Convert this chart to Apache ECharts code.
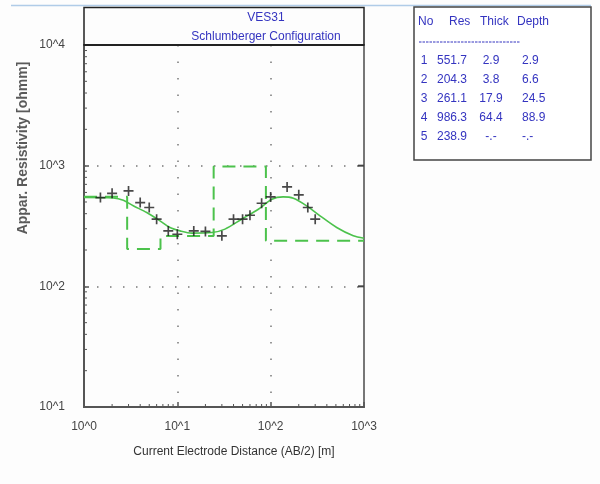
<!DOCTYPE html>
<html>
<head>
<meta charset="utf-8">
<script src="https://cdn.jsdelivr.net/npm/echarts@6/dist/echarts.min.js"></script>
<style>html,body{margin:0;padding:0;background:#fdfdfd;}#c{width:600px;height:484px;}</style>
</head>
<body>
<div id="c"></div>
<script>
// ---- data ----
const abHalf = [1.5, 2, 3, 4, 5, 6, 8, 10, 15, 20, 30, 40, 50, 60, 80, 100, 150, 200, 250, 300];
const rhoObs = [544, 590, 618, 494, 450, 360, 288, 270, 288, 285, 262, 360, 360, 388, 488, 551, 667, 573, 450, 360];
const fitX = [1, 2.06, 2.64, 3.37, 4.7, 6.52, 8.34, 10.7, 14.3, 23.4, 32.4, 48.9, 73.8, 103, 136, 175, 243, 338, 510, 768, 1000];
const fitY = [544, 540, 517, 465, 409, 349, 307, 288, 276, 279, 298, 360, 435, 527, 551, 537, 465, 384, 307, 262, 250];
const layerNo = [1, 2, 3, 4, 5];
const layerRes = [551.7, 204.3, 261.1, 986.3, 238.9];
const layerThick = [2.9, 3.8, 17.9, 64.4];
const layerDepth = [2.9, 6.6, 24.5, 88.9];
const xTickLabels = ['10^0', '10^1', '10^2', '10^3'];
const yTickLabels = ['10^1', '10^2', '10^3', '10^4'];
const xMinor = [2,3,4,5,6,7,8,9,20,30,40,50,60,70,80,90,200,300,400,500,600,700,800,900];
const yMinor = [20,30,40,50,60,70,80,90,200,300,400,500,600,700,800,900,2000,3000,4000,5000,6000,7000,8000,9000];

const GREEN = '#4cc24c';
const BLUE = '#3434c0';
const FONT = '"Liberation Sans", Arial, sans-serif';

// model step data
const stepData = [[1, layerRes[0]]];
for (let i = 0; i < layerDepth.length; i++) stepData.push([layerDepth[i], layerRes[i + 1]]);
stepData.push([1000, layerRes[layerRes.length - 1]]);

const chart = echarts.init(document.getElementById('c'), null, {renderer: 'canvas'});

// table graphics
const tbl = [];
const colX = {no: 424, res: 437, thick: 491, depth: 517};
const rowY = [61, 80, 99, 118, 137];
tbl.push({type: 'rect', z: 10, shape: {x: 414, y: 7, width: 177, height: 153}, style: {fill: '#fff', stroke: '#444', lineWidth: 1.5}});
const head = [['No', 418], ['Res', 449], ['Thick', 480], ['Depth', 517]];
head.forEach(h => tbl.push({type: 'text', z: 11, x: h[1], y: 22, style: {text: h[0], fill: BLUE, font: '12px ' + FONT, textAlign: 'left', textVerticalAlign: 'middle'}}));
tbl.push({type: 'line', z: 11, shape: {x1: 419, y1: 42, x2: 520, y2: 42}, style: {stroke: BLUE, lineWidth: 1, lineDash: [2.5, 1]}});
layerNo.forEach((n, i) => {
  const y = rowY[i];
  const t = (s, x, a) => tbl.push({type: 'text', z: 11, x: x, y: y, style: {text: s, fill: BLUE, font: '12px ' + FONT, textAlign: a, textVerticalAlign: 'middle'}});
  t(String(n), colX.no, 'center');
  t(layerRes[i].toFixed(1), colX.res, 'left');
  t(i < layerThick.length ? layerThick[i].toFixed(1) : '-.-', colX.thick, 'center');
  t(i < layerDepth.length ? layerDepth[i].toFixed(1) : '-.-', colX.depth + 5, 'left');
});

const option = {
  backgroundColor: '#fdfdfd',
  animation: false,
  grid: {left: 84, right: 236, top: 45, bottom: 77, show: true, borderColor: '#777', borderWidth: 2, backgroundColor: 'transparent'},
  xAxis: {
    type: 'log', min: 1, max: 1000, logBase: 10,
    axisLine: {show: true, lineStyle: {color: '#555', width: 2}},
    axisTick: {show: true, inside: true, length: 5, lineStyle: {color: '#555', width: 1.5}},
    axisLabel: {margin: 14, color: '#444', fontSize: 12, fontFamily: FONT,
      formatter: v => xTickLabels[Math.round(Math.log10(v))]},
    splitLine: {show: true, lineStyle: {color: '#777', width: 1.5, type: [1.5, 15]}}
  },
  yAxis: {
    type: 'log', min: 10, max: 10000, logBase: 10,
    axisLine: {show: true, lineStyle: {color: '#555', width: 2}},
    axisTick: {show: true, inside: true, length: 5, lineStyle: {color: '#555', width: 1.5}},
    axisLabel: {margin: 19, color: '#444', fontSize: 12, fontFamily: FONT,
      formatter: v => yTickLabels[Math.round(Math.log10(v)) - 1]},
    splitLine: {show: true, lineStyle: {color: '#777', width: 1.5, type: [1.5, 11.5]}}
  },
  graphic: [
    {type: 'line', z: 1, shape: {x1: 11, y1: 5.5, x2: 591, y2: 5.5}, style: {stroke: '#b0cce8', lineWidth: 1.5}},
    {type: 'rect', z: 10, shape: {x: 84, y: 7.5, width: 280, height: 37.5}, style: {fill: '#fdfdfd', stroke: '#222', lineWidth: 1.5}},
    {type: 'line', z: 12, shape: {x1: 84, y1: 45, x2: 364, y2: 45}, style: {stroke: '#222', lineWidth: 2}},
    {type: 'text', z: 11, x: 266, y: 18, style: {text: 'VES31', fill: BLUE, font: '12px ' + FONT, textAlign: 'center', textVerticalAlign: 'middle'}},
    {type: 'text', z: 11, x: 266, y: 37, style: {text: 'Schlumberger Configuration', fill: BLUE, font: '12px ' + FONT, textAlign: 'center', textVerticalAlign: 'middle'}},
    {type: 'text', x: 234, y: 452, style: {text: 'Current Electrode Distance (AB/2) [m]', fill: '#333', font: '12px ' + FONT, textAlign: 'center', textVerticalAlign: 'middle'}},
    {type: 'text', x: 23, y: 148, rotation: Math.PI / 2, style: {text: 'Appar. Resistivity [ohmm]', fill: '#5a5a5a', font: 'bold 14px ' + FONT, textAlign: 'center', textVerticalAlign: 'middle'}}
  ].concat(tbl),
  series: [
    {
      type: 'custom', silent: true, clip: false, z: 5,
      data: xMinor.map(v => [v, 10]),
      renderItem: (params, api) => {
        const p = api.coord([api.value(0), api.value(1)]);
        return {type: 'line', shape: {x1: p[0], y1: p[1], x2: p[0], y2: p[1] - 3}, style: {stroke: '#555', lineWidth: 1}};
      }
    },
    {
      type: 'custom', silent: true, clip: false, z: 5,
      data: yMinor.map(v => [1, v]),
      renderItem: (params, api) => {
        const p = api.coord([api.value(0), api.value(1)]);
        return {type: 'line', shape: {x1: p[0], y1: p[1], x2: p[0] + 3, y2: p[1]}, style: {stroke: '#555', lineWidth: 1}};
      }
    },
    {
      type: 'custom', silent: true, clip: false, z: 5,
      data: [[1000, 100], [1000, 1000]],
      renderItem: (params, api) => {
        const p = api.coord([api.value(0), api.value(1)]);
        return {type: 'line', shape: {x1: p[0], y1: p[1], x2: p[0] - 6, y2: p[1]}, style: {stroke: '#444', lineWidth: 2}};
      }
    },
    {
      type: 'line', step: 'end', data: stepData, showSymbol: false, z: 6,
      lineStyle: {color: GREEN, width: 2, type: [13, 8]}
    },
    {
      type: 'line', smooth: 0.3, data: fitX.map((x, i) => [x, fitY[i]]), showSymbol: false, z: 7,
      lineStyle: {color: GREEN, width: 1.6}
    },
    {
      type: 'scatter', data: abHalf.map((x, i) => [x, rhoObs[i]]), z: 8,
      symbol: 'path://M5,0H7V5H12V7H7V12H5V7H0V5H5Z', symbolSize: 10,
      itemStyle: {color: '#1a1a1a'}
    }
  ]
};
chart.setOption(option);
</script>
</body>
</html>
